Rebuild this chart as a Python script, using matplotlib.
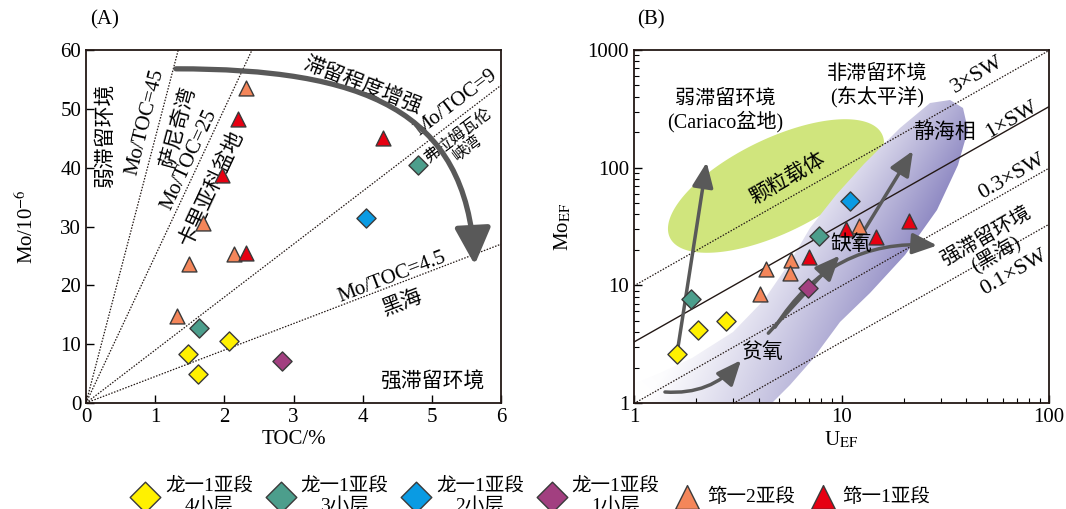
import numpy as np
import matplotlib
matplotlib.use('Agg')
import matplotlib.pyplot as plt
from matplotlib.patches import Polygon, FancyArrowPatch
from matplotlib.path import Path

plt.rcParams['font.family'] = ['Liberation Serif', 'Noto Sans CJK SC']
plt.rcParams['mathtext.fontset'] = 'stix'
plt.rcParams['axes.unicode_minus'] = False

# ---- data ----
# panel A : TOC (%) vs Mo (10^-6)
toc_l4 = [1.48, 1.62, 2.07]
mo_l4 = [8.3, 5.0, 10.5]
toc_l3 = [1.63, 4.80]
mo_l3 = [12.8, 40.4]
toc_l2 = [4.05]
mo_l2 = [31.4]
toc_l1 = [2.84]
mo_l1 = [7.1]
toc_q2 = [2.31, 1.69, 1.49, 2.14, 1.31]
mo_q2 = [53.5, 30.6, 23.7, 25.4, 14.8]
toc_q1 = [2.20, 1.97, 4.29, 2.32]
mo_q1 = [48.3, 38.8, 45.1, 25.5]
mo_toc_ratios = [45, 25, 9, 4.5]

# panel B : U_EF vs Mo_EF
uef_l4 = [1.61, 2.04, 2.77]
moef_l4 = [2.59, 4.16, 5.02]
uef_l3 = [1.88, 7.8]
moef_l3 = [7.7, 26.5]
uef_l2 = [11.0]
moef_l2 = [52.5]
uef_l1 = [6.92]
moef_l1 = [9.4]
uef_q2 = [4.05, 4.33, 5.71, 5.66, 12.1]
moef_q2 = [8.5, 13.7, 16.3, 12.7, 32.1]
uef_q1 = [7.0, 10.5, 14.7, 21.2]
moef_q1 = [17.4, 30.2, 25.7, 34.9]
sw_factors = [3, 1, 0.3, 0.1]
sw_labels = ['3×SW', '1×SW', '0.3×SW', '0.1×SW']
sw_ratio = 3.3   # Mo/U of seawater expressed in EF

labels = ['龙一1亚段\n4小层', '龙一1亚段\n3小层', '龙一1亚段\n2小层',
          '龙一1亚段\n1小层', '筇一2亚段', '筇一1亚段']
colors = ['#fff100', '#4c9e8c', '#0a9be3', '#a23f80', '#f4865a', '#e60012']
markers = ['D', 'D', 'D', 'D', '^', '^']

groups_a = [(toc_l4, mo_l4), (toc_l3, mo_l3), (toc_l2, mo_l2),
            (toc_l1, mo_l1), (toc_q2, mo_q2), (toc_q1, mo_q1)]
groups_b = [(uef_l4, moef_l4), (uef_l3, moef_l3), (uef_l2, moef_l2),
            (uef_l1, moef_l1), (uef_q2, moef_q2), (uef_q1, moef_q1)]

arrow_grey = '#595959'
fig = plt.figure(figsize=(10.66, 5.09), dpi=100)
ax1 = fig.add_axes([86/1066, 106/509, 415/1066, 353/509])
ax2 = fig.add_axes([634/1066, 106/509, 415/1066, 353/509])

# ================= panel A =================
xline = np.linspace(0, 6, 200)
for r in mo_toc_ratios:
    ax1.plot(xline, r*xline, ls=(0, (1.2, 1.2)), color='#231815', lw=0.9, zorder=2)

handles = []
for (x, y), c, m, lab in zip(groups_a, colors, markers, labels):
    s = 95 if m == 'D' else 115
    h = ax1.scatter(x, y, s=s, marker=m, c=c, edgecolors='#3a3a3a',
                    linewidths=1.0, zorder=5, label=lab)
    handles.append(h)

ax1.set_xlim(0, 6)
ax1.set_ylim(0, 60)
ax1.set_xticks(range(0, 7))
ax1.set_yticks(range(0, 61, 10))
ax1.set_xlabel('TOC/%', fontsize=15, labelpad=2)
ax1.set_ylabel('Mo/10$^{-6}$', fontsize=15, labelpad=16)

# big curved arrow
verts = [(1.3, 56.8), (4.0, 56.8), (5.5, 50.0), (5.62, 23.5)]
codes = [Path.MOVETO, Path.CURVE4, Path.CURVE4, Path.CURVE4]
big = FancyArrowPatch(path=Path(verts, codes),
                      arrowstyle='-|>,head_length=0.45,head_width=0.22',
                      mutation_scale=50, lw=3.8, color=arrow_grey, zorder=4)
ax1.add_patch(big)

fs = 15
ax1.text(0.30, 45.6, '弱滞留环境', rotation=90, fontsize=fs, ha='center', va='center')
ax1.text(0.86, 47.8, 'Mo/TOC=45', rotation=76, fontsize=15, ha='center', va='center', rotation_mode='anchor')
ax1.text(1.35, 47.0, '萨尼奇湾', rotation=75, fontsize=fs, ha='center', va='center', rotation_mode='anchor')
ax1.text(1.49, 41.3, 'Mo/TOC=25', rotation=65, fontsize=15, ha='center', va='center', rotation_mode='anchor')
ax1.text(1.82, 36.5, '卡里亚科盆地', rotation=65, fontsize=fs, ha='center', va='center', rotation_mode='anchor')
ax1.text(4.00, 53.9, '滞留程度增强', rotation=-21, fontsize=fs, ha='center', va='center', rotation_mode='anchor')
ax1.text(5.35, 51.0, 'Mo/TOC=9', rotation=37, fontsize=15, ha='center', va='center', rotation_mode='anchor')
ax1.text(5.45, 44.4, '弗拉姆瓦伦\n峡湾', rotation=37, fontsize=11.5, ha='center', va='center',
         rotation_mode='anchor', linespacing=1.0)
ax1.text(4.42, 21.4, 'Mo/TOC=4.5', rotation=21, fontsize=15, ha='center', va='center', rotation_mode='anchor')
ax1.text(4.58, 16.9, '黑海', rotation=21, fontsize=fs, ha='center', va='center', rotation_mode='anchor')
ax1.text(5.00, 3.4, '强滞留环境', fontsize=fs, ha='center', va='center')

# ================= panel B =================
ax2.set_xscale('log')
ax2.set_yscale('log')


def px2ax(px, py):
    return (np.asarray(px) - 634) / 415, (403 - np.asarray(py)) / 353


# green ellipse (particulate shuttle)
t = np.linspace(0, 2*np.pi, 200)
cx, cy, a, b, ang = 776, 186, 118, 47, np.deg2rad(26)
ex = cx + a*np.cos(t)*np.cos(ang) + b*np.sin(t)*np.sin(ang)
ey = cy - a*np.cos(t)*np.sin(ang) + b*np.sin(t)*np.cos(ang)
gx, gy = px2ax(ex, ey)
ax2.add_patch(Polygon(np.column_stack([gx, gy]), closed=True, transform=ax2.transAxes,
                      facecolor='#d0e57d', edgecolor='none', zorder=1))

# purple band with gradient (euxinic trend)
band_px = [(634, 403), (772, 403), (790, 385), (812, 360), (840, 322), (870, 293),
           (905, 255), (937, 210), (958, 165), (968, 130), (963, 108), (950, 100),
           (930, 103), (900, 128), (864, 164), (836, 195), (810, 228), (790, 262),
           (764, 300), (733, 332), (692, 358), (660, 373), (634, 384)]
bx, by = px2ax([p[0] for p in band_px], [p[1] for p in band_px])
band = Polygon(np.column_stack([bx, by]), closed=True, transform=ax2.transAxes,
               facecolor='none', edgecolor='none')
ax2.add_patch(band)
PX, PY = np.meshgrid(634 + np.arange(415) + 0.5, 50 + np.arange(353) + 0.5)
across = np.clip((0.74*(PX - 634) + 0.67*(PY - 50) - 240) / 95, 0, 1.1)
along = np.clip((0.67*(PX - 634) - 0.74*(PY - 50) + 250) / 425, 0, 1)
g = np.clip(across*(0.35 + 0.5*along) + 0.38*along, 0, 1)
light = np.array([1.0, 1.0, 1.0])
dark = np.array([0.57, 0.55, 0.77])
img = light + (dark - light)*g[..., None]
im = ax2.imshow(img, extent=[0, 1, 0, 1], transform=ax2.transAxes, origin='upper',
                aspect='auto', zorder=1, interpolation='bilinear')
im.set_clip_path(band)

uline = np.logspace(0, 2, 100)
for f in sw_factors:
    if f == 1:
        ax2.plot(uline, sw_ratio*f*uline, color='#231815', lw=1.0, zorder=2)
    else:
        ax2.plot(uline, sw_ratio*f*uline, ls=(0, (1.2, 1.2)), color='#231815', lw=0.9, zorder=2)

for (x, y), c, m in zip(groups_b, colors, markers):
    s = 95 if m == 'D' else 115
    ax2.scatter(x, y, s=s, marker=m, c=c, edgecolors='#3a3a3a', linewidths=1.0, zorder=5)

ax2.set_xlim(1, 100)
ax2.set_ylim(1, 1000)
ax2.set_xticks([1, 10, 100])
ax2.set_xticklabels(['1', '10', '100'])
ax2.set_yticks([1, 10, 100, 1000])
ax2.set_yticklabels(['1', '10', '100', '1000'])
ax2.set_xlabel('U$_{\\rm EF}$', fontsize=15, labelpad=2)
ax2.set_ylabel('Mo$_{\\rm EF}$', fontsize=15, labelpad=10)

# arrows in panel B
aprops = dict(arrowstyle='-|>,head_length=0.75,head_width=0.32', mutation_scale=20,
              lw=2.5, color=arrow_grey, shrinkA=0, shrinkB=0)
ax2.annotate('', xy=(2.24, 111), xytext=(1.61, 2.6), arrowprops=aprops, zorder=4)
ax2.annotate('', xy=(9.8, 17.9), xytext=(4.44, 3.92), arrowprops=aprops, zorder=4)
ax2.annotate('', xy=(22.1, 139), xytext=(12.0, 24.0), arrowprops=aprops, zorder=4)
ax2.annotate('', xy=(28.9, 21.8), xytext=(4.78, 4.41),
             arrowprops=dict(aprops, connectionstyle='arc3,rad=-0.3'), zorder=4)
ax2.annotate('', xy=(3.28, 2.31), xytext=(1.41, 1.24),
             arrowprops=dict(aprops, connectionstyle='arc3,rad=0.25'), zorder=4)

ax2.text(2.75, 304, '弱滞留环境\n(Cariaco盆地)', fontsize=14.5, ha='center', va='center', linespacing=1.1)
ax2.text(14.8, 495, '非滞留环境\n(东太平洋)', fontsize=14.5, ha='center', va='center', linespacing=1.1)
ax2.text(5.5, 80, '颗粒载体', rotation=30, fontsize=fs, ha='center', va='center', rotation_mode='anchor')
ax2.text(31.5, 198, '静海相', fontsize=fs, ha='center', va='center')
ax2.text(11.2, 21.8, '缺氧', fontsize=fs, ha='center', va='center', zorder=6)
ax2.text(4.14, 2.65, '贫氧', fontsize=fs, ha='center', va='center')
ax2.text(53, 21.5, '强滞留环境\n(黑海)', rotation=30, fontsize=14.5, ha='center', va='center',
         rotation_mode='anchor', linespacing=1.05)
sw_pos = [(45, 610), (66, 255), (66, 84), (68, 12.8)]
for (x, y), lab in zip(sw_pos, sw_labels):
    ax2.text(x, y, lab, rotation=30, fontsize=16, ha='center', va='center', rotation_mode='anchor')

for ax in (ax1, ax2):
    ax.tick_params(which='both', direction='in', top=False, right=False, labelsize=15)
    ax.tick_params(which='major', length=6, width=1.0)
    ax.tick_params(which='minor', length=3.5, width=0.8)
    for sp in ax.spines.values():
        sp.set_linewidth(1.3)
        sp.set_color('#231815')

fig.text(90/1066, 1 - 20/509, '(A)', fontsize=15, ha='left', va='center')
fig.text(637/1066, 1 - 20/509, '(B)', fontsize=15, ha='left', va='center')

leg = fig.legend(handles=handles, loc='center', bbox_to_anchor=(0.5, 0.026), ncol=6,
                 frameon=False, fontsize=14, markerscale=1.6, handlelength=1.0,
                 handletextpad=0.5, columnspacing=0.95, scatterpoints=1)
for txt in leg.get_texts():
    txt.set_multialignment('center')

fig.savefig('out.png', dpi=100)
